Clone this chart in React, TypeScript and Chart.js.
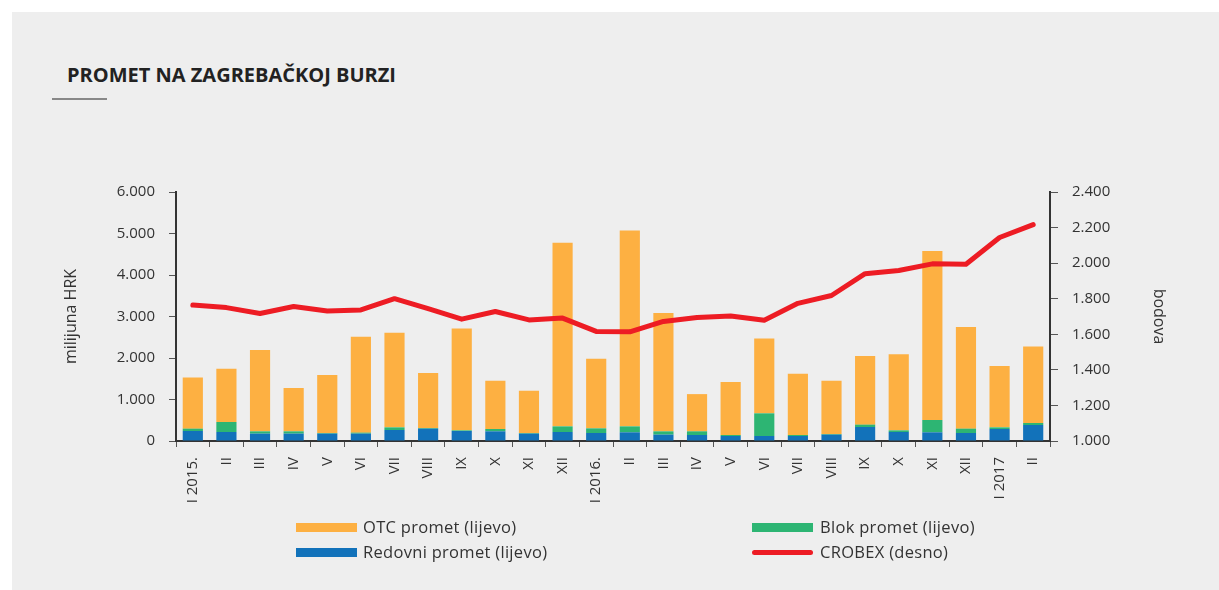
import React, { useEffect, useRef } from "react";
import { Chart, registerables } from "chart.js";

Chart.register(...registerables);

const categories = ["I 2015.", "II", "III", "IV", "V", "VI", "VII", "VIII", "IX", "X", "XI", "XII", "I 2016.", "II", "III", "IV", "V", "VI", "VII", "VIII", "IX", "X", "XI", "XII", "I 2017", "II"];
const redovni = [241, 217, 177, 177, 177, 177, 265, 297, 241, 233, 177, 217, 193, 209, 153, 145, 120, 120, 120, 153, 337, 217, 209, 193, 289, 386];
const blok = [56, 241, 56, 56, 16, 24, 64, 16, 16, 56, 16, 136, 112, 144, 80, 88, 25, 547, 25, 16, 57, 40, 297, 104, 40, 48];
const otc = [1233, 1282, 1957, 1047, 1397, 2314, 2281, 1327, 2453, 1161, 1017, 4422, 1675, 4717, 2852, 897, 1275, 1803, 1475, 1281, 1656, 1833, 4074, 2453, 1481, 1846];
const crobex = [1764, 1750, 1717, 1756, 1731, 1737, 1800, 1744, 1685, 1728, 1681, 1691, 1616, 1614, 1672, 1694, 1703, 1679, 1774, 1818, 1941, 1959, 1996, 1994, 2144, 2217];
const leftTicks = [0, 1000, 2000, 3000, 4000, 5000, 6000];
const rightTicks = [1000, 1200, 1400, 1600, 1800, 2000, 2200, 2400];

const FONT = "'Open Sans', 'Noto Sans', sans-serif";
const TXT = "#333333";
const ORANGE = "#FDB042";
const GREEN = "#2DB573";
const BLUE = "#1272BA";
const RED = "#ED1C24";

const fmt = (v: number) => (v === 0 ? "0" : v.toLocaleString("de-DE"));

export default function App() {
  const ref = useRef<HTMLCanvasElement | null>(null);
  useEffect(() => {
    if (!ref.current) return;
    const chart = new Chart(ref.current, {
      type: "bar",
      data: {
        labels: categories,
        datasets: [
          { type: "line", label: "CROBEX (desno)", data: crobex, yAxisID: "y1", borderColor: RED, backgroundColor: RED, borderWidth: 5, pointRadius: 0, tension: 0, borderCapStyle: "round", borderJoinStyle: "round", order: 0 } as any,
          { label: "Redovni promet (lijevo)", data: redovni, backgroundColor: BLUE, yAxisID: "y", stack: "s", order: 1 },
          { label: "Blok promet (lijevo)", data: blok, backgroundColor: GREEN, yAxisID: "y", stack: "s", order: 1 },
          { label: "OTC promet (lijevo)", data: otc, backgroundColor: ORANGE, yAxisID: "y", stack: "s", order: 1 },
        ],
      },
      options: {
        animation: false,
        responsive: false,
        maintainAspectRatio: false,
        layout: { padding: { left: 58, right: 47, top: 192, bottom: 40 } },
        plugins: { legend: { display: false }, tooltip: { enabled: false }, title: { display: false } },
        datasets: { bar: { barPercentage: 0.6, categoryPercentage: 1.0 } },
        scales: {
          x: {
            stacked: true,
            offset: true,
            afterFit: (s: any) => { s.height = 109; },
            border: { display: true, color: "#333", width: 2 },
            grid: { display: true, offset: true, drawOnChartArea: false, drawTicks: true, tickLength: 6, color: "#555", lineWidth: 1 },
            ticks: { autoSkip: false, minRotation: 90, maxRotation: 90, padding: 10, color: TXT, font: { family: FONT, size: 15 } },
          },
          y: {
            position: "left",
            stacked: true,
            min: 0,
            max: 6000,
            afterFit: (s: any) => { s.width = 118; },
            afterBuildTicks: (s: any) => { s.ticks = leftTicks.map((v) => ({ value: v })); },
            border: { display: true, color: "#333", width: 2 },
            grid: { drawOnChartArea: false, drawTicks: true, tickLength: 7, color: "#555" },
            ticks: { padding: 14, color: TXT, font: { family: FONT, size: 15 }, callback: (v: any) => fmt(Number(v)) },
            title: { display: true, text: "milijuna HRK", color: TXT, font: { family: FONT, size: 16 } },
          },
          y1: {
            position: "right",
            min: 1000,
            max: 2400,
            afterFit: (s: any) => { s.width = 122; },
            afterBuildTicks: (s: any) => { s.ticks = rightTicks.map((v) => ({ value: v })); },
            border: { display: true, color: "#333", width: 2 },
            grid: { drawOnChartArea: false, drawTicks: true, tickLength: 8, color: "#555" },
            ticks: { padding: 14, color: TXT, font: { family: FONT, size: 15 }, callback: (v: any) => fmt(Number(v)) },
            title: { display: true, text: "bodova", color: TXT, font: { family: FONT, size: 16 } },
          },
        },
      } as any,
    });
    return () => chart.destroy();
  }, []);

  const legendText: React.CSSProperties = { position: "absolute", fontFamily: FONT, fontSize: 16.5, letterSpacing: 0.3, color: TXT, lineHeight: "20px", whiteSpace: "nowrap" };
  const sw = (x: number, y: number, c: string, round = false): React.CSSProperties => ({ position: "absolute", left: x, top: y - (round ? 2.5 : 4.5), width: 61, height: round ? 5 : 9, background: c, borderRadius: round ? 3 : 0 });

  return (
    <div style={{ position: "absolute", left: 0, top: 0, width: 1219, height: 590, background: "#ffffff", overflow: "hidden" }}>
      <div style={{ position: "absolute", left: 12, top: 12, width: 1207, height: 578, background: "#eeeeee" }} />
      <div style={{ position: "absolute", left: 67, top: 62, fontFamily: FONT, fontWeight: 700, fontSize: 20, color: "#222", whiteSpace: "nowrap", lineHeight: "26px" }}>PROMET NA ZAGREBAČKOJ BURZI</div>
      <div style={{ position: "absolute", left: 52, top: 98, width: 55, height: 2, background: "#888" }} />
      <canvas ref={ref} width={1219} height={590} style={{ position: "absolute", left: 0, top: 0, width: 1219, height: 590 }} />
      <div style={sw(296, 527, ORANGE)} />
      <div style={{ ...legendText, left: 363, top: 517 }}>OTC promet (lijevo)</div>
      <div style={sw(296, 552, BLUE)} />
      <div style={{ ...legendText, left: 363, top: 542 }}>Redovni promet (lijevo)</div>
      <div style={sw(752, 527, GREEN)} />
      <div style={{ ...legendText, left: 820, top: 517 }}>Blok promet (lijevo)</div>
      <div style={sw(752, 552, RED, true)} />
      <div style={{ ...legendText, left: 820, top: 542 }}>CROBEX (desno)</div>
    </div>
  );
}
